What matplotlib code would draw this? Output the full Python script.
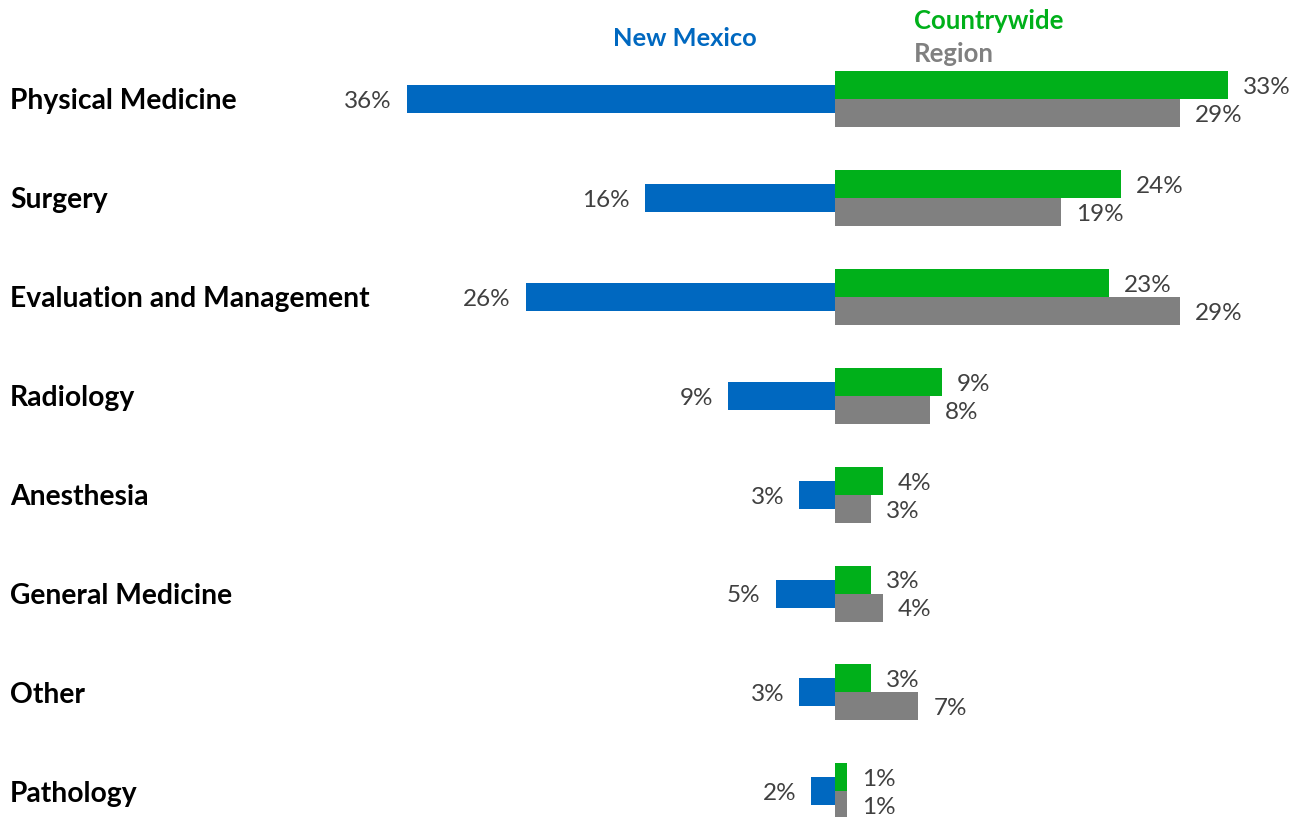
import matplotlib
matplotlib.use("Agg")
import matplotlib.pyplot as plt
import matplotlib.transforms as mtransforms

# values in percent
categories = ["Physical Medicine", "Surgery", "Evaluation and Management", "Radiology",
              "Anesthesia", "General Medicine", "Other", "Pathology"]
new_mexico = [36, 16, 26, 9, 3, 5, 3, 2]
countrywide = [33, 24, 23, 9, 4, 3, 3, 1]
region = [29, 19, 29, 8, 3, 4, 7, 1]

BLUE = "#0068C0"
GREEN = "#00B01A"
GRAY = "#808080"
LABEL = "#404040"

plt.rcParams['font.family'] = ['Lato', 'DejaVu Sans']

W, H = 1299, 817
fig = plt.figure(figsize=(W / 100, H / 100), dpi=100)
ax = fig.add_axes([0, 0, 1, 1])

# pixel geometry: zero line at x=835, ~11.9 px per percent, rows ~98.9 px apart
x0, ppu = 835, 11.9
y0, row = 99, 98.9
ax.set_xlim(-x0 / ppu, (W - x0) / ppu)
ax.set_ylim((H - y0) / row, -y0 / row)
ax.axis('off')

h = 28 / row
ys = list(range(len(categories)))
ax.barh(ys, [-v for v in new_mexico], height=h, color=BLUE, align='center')
ax.barh([y - h / 2 for y in ys], countrywide, height=h, color=GREEN, align='center')
ax.barh([y + h / 2 for y in ys], region, height=h, color=GRAY, align='center')

pad = 15 / ppu
dy = 2.5 / row  # nudge text down a little
for y, nm, cw, rg in zip(ys, new_mexico, countrywide, region):
    ax.text(-nm - pad, y + dy, f"{nm}%", ha='right', va='center', fontsize=17.5, color=LABEL)
    ax.text(cw + pad, y - h / 2 + dy, f"{cw}%", ha='left', va='center', fontsize=17.5, color=LABEL)
    ax.text(rg + pad, y + h / 2 + dy, f"{rg}%", ha='left', va='center', fontsize=17.5, color=LABEL)

trans = mtransforms.blended_transform_factory(fig.transFigure, ax.transData)
for y, c in zip(ys, categories):
    ax.text(10 / W, y + dy, c, transform=trans, ha='left', va='center',
            fontsize=20.3, fontweight='bold', color='black')

# legend-style headers
fig.text(685 / W, 1 - 38 / H, "New Mexico", ha='center', va='center',
         fontsize=18.3, fontweight='bold', color=BLUE)
fig.text(914 / W, 1 - 21 / H, "Countrywide", ha='left', va='center',
         fontsize=18.5, fontweight='bold', color=GREEN)
fig.text(914 / W, 1 - 54 / H, "Region", ha='left', va='center',
         fontsize=18.5, fontweight='bold', color=GRAY)

fig.savefig("out.png", dpi=100, facecolor='white')
